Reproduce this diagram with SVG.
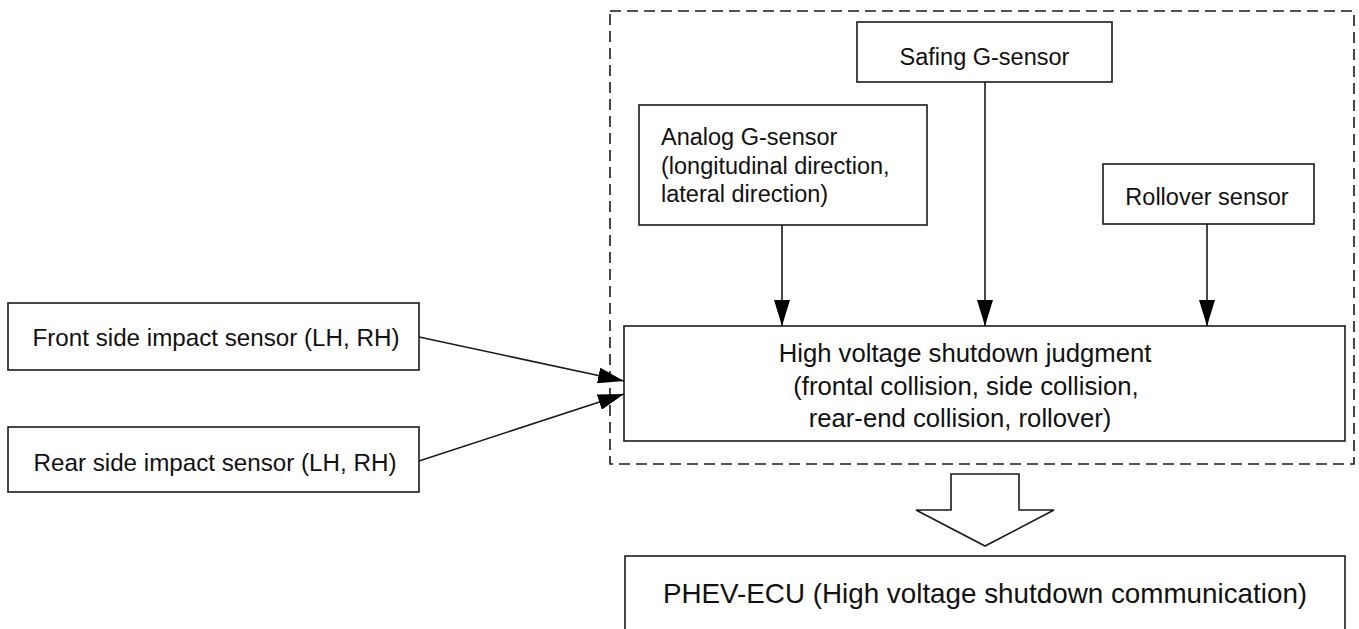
<svg xmlns="http://www.w3.org/2000/svg" width="1359" height="629" viewBox="0 0 1359 629">
  <style>
    .box { fill: #ffffff; stroke: #1a1a1a; stroke-width: 1.6; }
    .dash { fill: none; stroke: #1a1a1a; stroke-width: 1.6; stroke-dasharray: 11 6; }
    .t { font-family: "Liberation Sans", Arial, sans-serif; fill: #111111; }
    .s24 { font-size: 23.5px; }
    .s24b { font-size: 24.2px; }
    .s26 { font-size: 25.7px; }
    .s28 { font-size: 27.8px; }
    .conn { stroke: #1a1a1a; stroke-width: 1.6; fill: none; marker-end: url(#ah); }
  </style>
  <defs>
    <marker id="ah" markerWidth="26" markerHeight="16" refX="26" refY="8" orient="auto" markerUnits="userSpaceOnUse">
      <path d="M0,0 L26,8 L0,16 Z" fill="#000000"/>
    </marker>
  </defs>
  <rect width="1359" height="629" fill="#ffffff"/>

  <rect id="ecu-boundary" class="dash" x="610" y="11" width="744" height="453"/>

  <g id="safing">
    <rect class="box" x="857" y="22" width="255" height="60"/>
    <text class="t s24" x="984.5" y="65" text-anchor="middle">Safing G-sensor</text>
  </g>
  <g id="analog">
    <rect class="box" x="639" y="105" width="288" height="120"/>
    <text class="t s24" x="661" y="145">Analog G-sensor</text>
    <text class="t s24" x="661" y="173.5">(longitudinal direction,</text>
    <text class="t s24" x="661" y="202">lateral direction)</text>
  </g>
  <g id="rollover">
    <rect class="box" x="1103" y="164" width="211" height="60"/>
    <text class="t s24" x="1207" y="205" text-anchor="middle">Rollover sensor</text>
  </g>
  <g id="judgment">
    <rect class="box" x="624" y="326" width="721" height="115"/>
    <text class="t s26" x="965" y="362" text-anchor="middle">High voltage shutdown judgment</text>
    <text class="t s26" x="966" y="395" text-anchor="middle">(frontal collision, side collision,</text>
    <text class="t s26" x="960" y="427" text-anchor="middle">rear-end collision, rollover)</text>
  </g>
  <g id="front">
    <rect class="box" x="8" y="303" width="411" height="67"/>
    <text class="t s24b" x="216" y="346" text-anchor="middle">Front side impact sensor (LH, RH)</text>
  </g>
  <g id="rear">
    <rect class="box" x="8" y="427" width="411" height="65"/>
    <text class="t s24b" x="215" y="471" text-anchor="middle">Rear side impact sensor (LH, RH)</text>
  </g>
  <g id="phev-ecu">
    <rect class="box" x="625" y="556" width="720" height="90"/>
    <text class="t s28" x="985" y="603" text-anchor="middle">PHEV-ECU (High voltage shutdown communication)</text>
  </g>

  <g id="connectors">
    <line class="conn" x1="782" y1="225" x2="782" y2="326"/>
    <line class="conn" x1="985" y1="82" x2="985" y2="326"/>
    <line class="conn" x1="1207" y1="224" x2="1207" y2="326"/>
    <line class="conn" x1="419" y1="337" x2="624" y2="381"/>
    <line class="conn" x1="419" y1="461" x2="624" y2="394"/>
    <polygon id="big-arrow" class="box" points="951,474 1019,474 1019,510 1054,510 985,546 916,510 951,510"/>
  </g>
</svg>
